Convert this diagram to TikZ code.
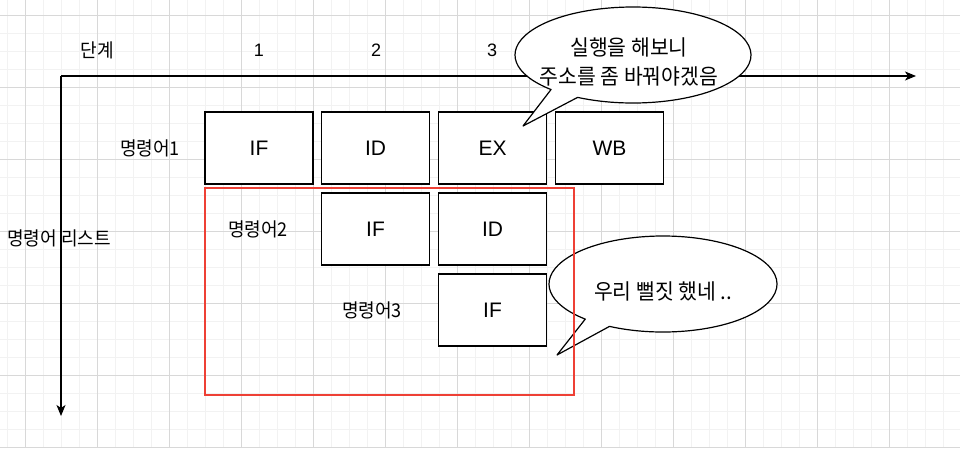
\documentclass[tikz,border=0pt]{standalone}
\usepackage{fontspec}
\setmainfont{Liberation Sans}
\newfontfamily\kr[FakeStretch=0.95]{Noto Sans CJK KR}
\usetikzlibrary{arrows.meta,calc}
\definecolor{gridminor}{HTML}{F2F2F2}
\definecolor{gridmajor}{HTML}{D8D8D8}
\definecolor{redline}{HTML}{EE4035}
\begin{document}
\begin{tikzpicture}[x=1pt,y=-1pt,
  stagebox/.style={draw,line width=1.2pt,minimum width=108pt,minimum height=72pt,inner sep=0pt,fill=white,font=\fontsize{21}{24}\selectfont},
  lbl/.style={inner sep=0pt,font=\kr\fontsize{19}{22}\selectfont},
  numlbl/.style={inner sep=0pt,font=\fontsize{18}{21}\selectfont},
  bubble/.style={draw,line width=1.2pt,fill=white,line join=round},
  bubbletext/.style={inner sep=0pt,align=center,font=\kr\fontsize{21.5}{29}\selectfont},
  axis/.style={line width=1.2pt,-{Stealth[length=11pt,width=9pt,inset=3pt]}}]
\useasboundingbox (0,0) rectangle (960,448);
\fill[white] (0,0) rectangle (960,448);
% grid
\foreach \gx in {7,25,...,960} \draw[gridminor,line width=0.8pt] (\gx,0) -- (\gx,448);
\foreach \gy in {15,33,...,448} \draw[gridminor,line width=0.8pt] (0,\gy) -- (960,\gy);
\foreach \gx in {25,97,...,961} \draw[gridmajor,line width=0.8pt] (\gx,0) -- (\gx,448);
\foreach \gy in {15,87,...,448} \draw[gridmajor,line width=0.8pt] (0,\gy) -- (960,\gy);
% axes
\coordinate (origin) at (61,76);
\coordinate (xend) at (916,76);
\coordinate (yend) at (61,416);
\draw[axis] (origin) -- (xend);
\draw[axis] (origin) -- (yend);
% labels
\node[lbl] (stage) at (97,50) {단계};
\node[numlbl] (n1) at (259,50) {1};
\node[numlbl] (n2) at (376,50) {2};
\node[numlbl] (n3) at (492,50) {3};
\node[lbl] (list) at (59,238) {명령어 리스트};
\node[lbl] (ins1) at (150,148) {명령어1};
\node[lbl] (ins2) at (258,229) {명령어2};
\node[lbl] (ins3) at (372,310) {명령어3};
% boxes
\node[stagebox] (r1if) at (259,148) {IF};
\node[stagebox] (r1id) at (375.5,148) {ID};
\node[stagebox] (r1ex) at (492.5,148) {EX};
\node[stagebox] (r1wb) at (609.5,148) {WB};
\node[stagebox] (r2if) at (375.5,229) {IF};
\node[stagebox] (r2id) at (492.5,229) {ID};
\node[stagebox] (r3if) at (492.5,310) {IF};
% callout 2
\draw[bubble] ($(663,284)+(118:114 and 48)$)
  arc[start angle=118,end angle=-227,x radius=114,y radius=48] -- (557,355) -- cycle;
\node[bubbletext] (t2) at (663,291) {우리 뻘짓 했네 ..};
% red frame
\draw[redline,line width=1.2pt] (205,188) rectangle (574,395);
% callout 1
\draw[bubble] ($(633,55)+(118:118 and 48)$)
  arc[start angle=118,end angle=-226,x radius=118,y radius=48] -- (523,126) -- cycle;
\node[bubbletext] (t1) at (629,62) {실행을 해보니\\주소를 좀 바꿔야겠음};
\end{tikzpicture}
\end{document}
